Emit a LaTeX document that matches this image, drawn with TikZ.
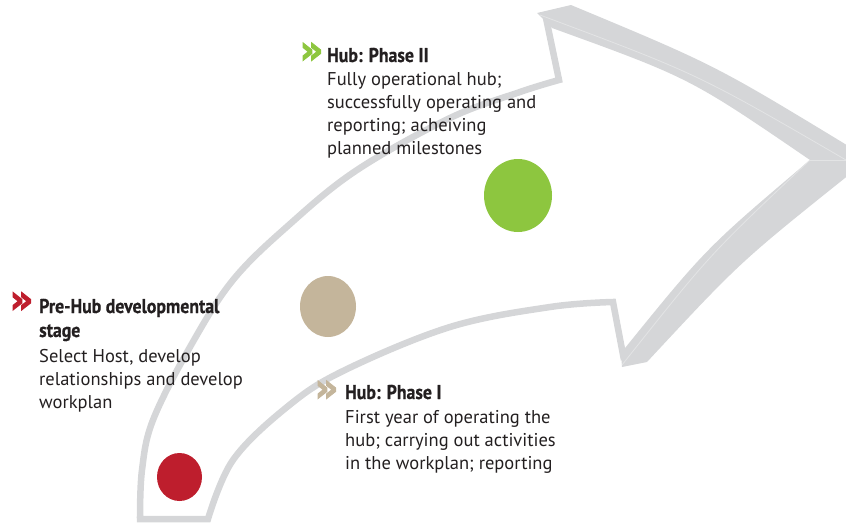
\documentclass[tikz,border=0pt]{standalone}
\usepackage{fontspec}
\setmainfont{PT Sans}
\newfontfamily\headfont[FakeStretch=0.89, FakeBold=0.6]{PT Sans}
\newfontfamily\chevfont[FakeStretch=0.95, FakeBold=2.5]{DejaVu Sans}
\usetikzlibrary{shapes.geometric}
\definecolor{arrowgray}{HTML}{D5D6D8}
\definecolor{bevel}{HTML}{E3E4E5}
\definecolor{dotred}{HTML}{BE1E2D}
\definecolor{dottan}{HTML}{C4B59B}
\definecolor{dotgreen}{HTML}{8DC63F}
\definecolor{inkblack}{HTML}{231F20}
\tikzset{
  arrowline/.style={draw=arrowgray, line width=6.5pt, line join=miter},
  band/.style={fill=arrowgray, draw=none},
  bevelline/.style={draw=bevel, line width=0.8pt},
  dot/.style={ellipse, inner sep=0pt, draw=none},
  headtext/.style={anchor=base west, inner sep=0pt, text=inkblack,
    font=\headfont\bfseries\fontsize{20}{24}\selectfont},
  bodytext/.style={anchor=base west, inner sep=0pt, text=inkblack,
    font=\fontsize{18.5}{23.3}\selectfont},
  chevron/.style={anchor=center, inner sep=0pt,
    font=\chevfont\bfseries\fontsize{39}{39}\selectfont}
}
\begin{document}
\begin{tikzpicture}[x=1pt,y=-1pt]
\useasboundingbox (0,0) rectangle (846,528);
\clip (0,0) rectangle (846,528);

% arrow outline (thin part)
\draw[arrowline] (546,18) -- (559,80)
  -- plot[smooth, tension=0.6] coordinates {(559,80) (520,92) (450,118) (357,170) (290,224) (233,280) (190,347) (153,420) (142,470) (140,519)}
  -- (208,519)
  -- plot[smooth, tension=0.6] coordinates {(208,519) (233,460) (287,407) (343,371) (450,327) (550,307) (613,302)}
  -- (624,360);

% arrowhead bands
\fill[band] (537,13) -- (571,5) .. controls (715,65) .. (850,147)
  -- (850,174) .. controls (740,262) .. (647,362)
  -- (622,367) -- (621,353) .. controls (706,248) .. (810,160)
  .. controls (690,78) .. (552,28) -- cycle;
\draw[bevelline] (540,15) .. controls (698,74) .. (846,160);
\draw[bevelline] (810,160) -- (846,160);
\draw[bevelline] (810,160) .. controls (710,254) .. (622,365);

% dots
\node[dot, fill=dotred, minimum width=45pt, minimum height=48pt] (red) at (179.5,477) {};
\node[dot, fill=dottan, minimum width=56pt, minimum height=61pt] (tan) at (328,306.5) {};
\node[dot, fill=dotgreen, minimum width=68pt, minimum height=73pt] (green) at (518,195.5) {};

% Pre-Hub
\node[chevron, text=dotred] (chevA) at (21.5,302.5) {»};
\node[headtext] (headA) at (39,313) {\begin{tabular}[t]{@{}l@{}}Pre-Hub developmental\\ stage\end{tabular}};
\node[bodytext] (bodyA) at (39,362) {\begin{tabular}[t]{@{}l@{}}Select Host, develop\\ relationships and develop\\ workplan\end{tabular}};

% Phase II
\node[chevron, text=dotgreen] (chevC) at (311.5,53) {»};
\node[headtext] (headC) at (327,62) {Hub: Phase II};
\node[bodytext] (bodyC) at (327,85) {\begin{tabular}[t]{@{}l@{}}Fully operational hub;\\ successfully operating and\\ reporting; acheiving\\ planned milestones\end{tabular}};

% Phase I
\node[chevron, text=dottan] (chevB) at (326.5,391) {»};
\node[headtext] (headB) at (345,399) {Hub: Phase I};
\node[bodytext] (bodyB) at (345,423) {\begin{tabular}[t]{@{}l@{}}First year of operating the\\ hub; carrying out activities\\ in the workplan; reporting\end{tabular}};
\end{tikzpicture}
\end{document}
